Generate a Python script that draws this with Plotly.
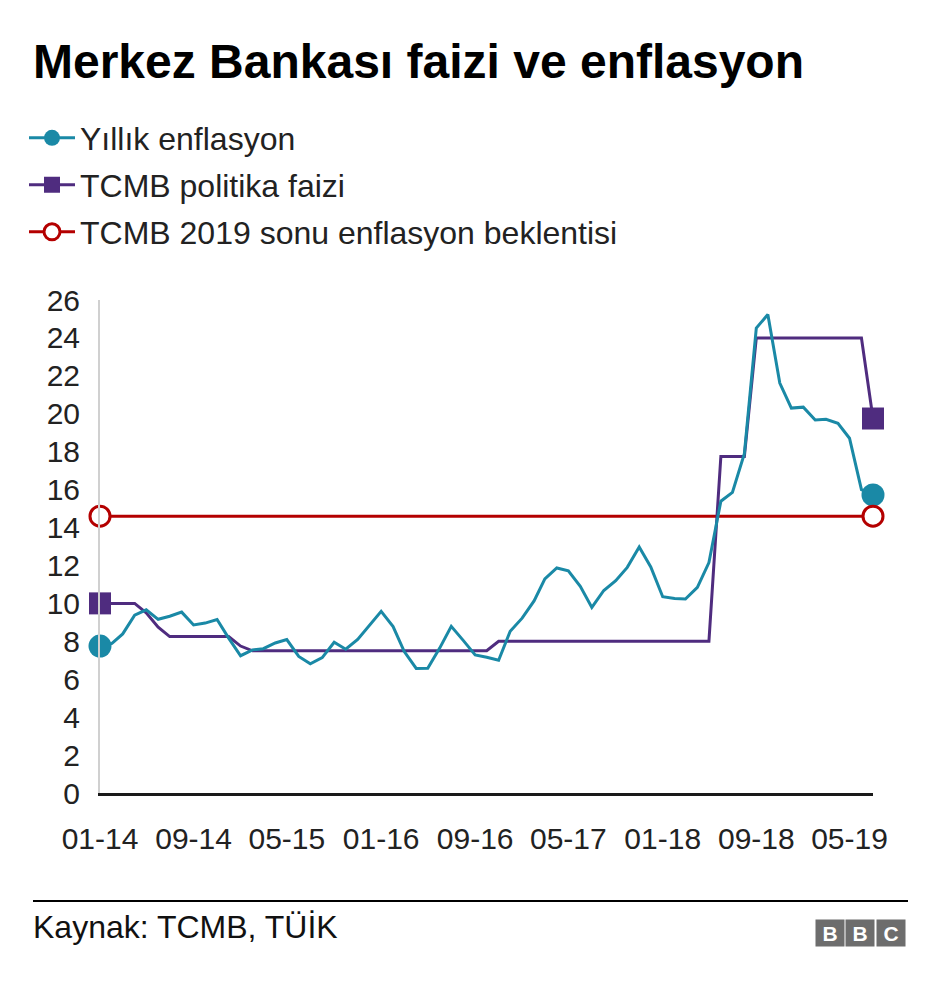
import pandas as pd
import plotly.graph_objects as go

# ---------------- data ----------------
months = pd.date_range("2014-01-01", periods=67, freq="MS")

inflation = [
    7.75, 7.89, 8.39, 9.38, 9.66, 9.16, 9.32, 9.54, 8.86, 8.96, 9.15, 8.17,
    7.24, 7.55, 7.61, 7.91, 8.09, 7.20, 6.81, 7.14, 7.95, 7.58, 8.10, 8.81,
    9.58, 8.78, 7.46, 6.57, 6.58, 7.64, 8.79, 8.05, 7.28, 7.16, 7.00, 8.53,
    9.22, 10.13, 11.29, 11.87, 11.72, 10.90, 9.79, 10.68, 11.20, 11.90, 12.98, 11.92,
    10.35, 10.26, 10.23, 10.85, 12.15, 15.39, 15.85, 17.90, 24.52, 25.24, 21.62, 20.30,
    20.35, 19.67, 19.71, 19.50, 18.71, 16.00, 15.72,
]

policy_rate = [
    10.0, 10.0, 10.0, 10.0, 9.5, 8.75, 8.25, 8.25, 8.25, 8.25, 8.25, 8.25,
    7.75, 7.5, 7.5, 7.5, 7.5, 7.5, 7.5, 7.5, 7.5, 7.5, 7.5, 7.5,
    7.5, 7.5, 7.5, 7.5, 7.5, 7.5, 7.5, 7.5, 7.5, 7.5, 8.0, 8.0,
    8.0, 8.0, 8.0, 8.0, 8.0, 8.0, 8.0, 8.0, 8.0, 8.0, 8.0, 8.0,
    8.0, 8.0, 8.0, 8.0, 8.0, 17.75, 17.75, 17.75, 24.0, 24.0, 24.0, 24.0,
    24.0, 24.0, 24.0, 24.0, 24.0, 24.0, 19.75,
]

expectation_2019 = 14.6

tick_labels = ["01-14", "09-14", "05-15", "01-16", "09-16", "05-17", "01-18", "09-18", "05-19"]
y_ticks = list(range(0, 27, 2))

series_names = ["Yıllık enflasyon", "TCMB politika faizi", "TCMB 2019 sonu enflasyon beklentisi"]
title_text = "Merkez Bankası faizi ve enflasyon"
source_text = "Kaynak: TCMB, TÜİK"

# ---------------- style ----------------
TEAL = "#1a89a6"
PURPLE = "#4f2c7f"
RED = "#b40000"
TXT = "#222222"
FONT = "Liberation Sans, Arial, sans-serif"

W, H = 940, 988
L, R, T, B = 100, 67, 300, 195
PW, PH = W - L - R, H - T - B


def px(x):
    return (x - L) / PW


def py(y):
    return (H - B - y) / PH


tickvals = [pd.Timestamp(f"20{t[3:]}-{t[:2]}-01") for t in tick_labels]

fig = go.Figure()

# lines
fig.add_trace(go.Scatter(x=[months[0], months[-1]], y=[expectation_2019, expectation_2019],
                         mode="lines", line=dict(color=RED, width=3), showlegend=False,
                         hoverinfo="skip"))
fig.add_trace(go.Scatter(x=months, y=policy_rate, mode="lines",
                         line=dict(color=PURPLE, width=3), showlegend=False))
fig.add_trace(go.Scatter(x=months, y=inflation, mode="lines",
                         line=dict(color=TEAL, width=3), showlegend=False))

# end markers
fig.add_trace(go.Scatter(x=[months[0], months[-1]], y=[inflation[0], inflation[-1]], mode="markers",
                         marker=dict(symbol="circle", size=23, color=TEAL),
                         showlegend=False, cliponaxis=False))
fig.add_trace(go.Scatter(x=[months[0], months[-1]], y=[policy_rate[0], policy_rate[-1]], mode="markers",
                         marker=dict(symbol="square", size=22, color=PURPLE),
                         showlegend=False, cliponaxis=False))
fig.add_trace(go.Scatter(x=[months[0], months[-1]], y=[expectation_2019, expectation_2019], mode="markers",
                         marker=dict(symbol="circle", size=20, color="white",
                                     line=dict(color=RED, width=3)),
                         showlegend=False, cliponaxis=False))

# legend entries (one legend per row)
legend_styles = [
    dict(line=dict(color=TEAL, width=3), marker=dict(symbol="circle", size=16, color=TEAL)),
    dict(line=dict(color=PURPLE, width=3), marker=dict(symbol="square", size=16, color=PURPLE)),
    dict(line=dict(color=RED, width=3), marker=dict(symbol="circle", size=16, color="white",
                                                    line=dict(color=RED, width=3))),
]
legend_ids = ["legend", "legend2", "legend3"]
legend_rows = [138, 185, 232]
for name, st, lid in zip(series_names, legend_styles, legend_ids):
    fig.add_trace(go.Scatter(x=[None], y=[None], mode="lines+markers", name=name,
                             legend=lid, showlegend=True, **st))

legend_common = dict(font=dict(family=FONT, size=32, color=TXT), bgcolor="rgba(0,0,0,0)",
                     borderwidth=0, itemwidth=46, xanchor="left", yanchor="middle",
                     itemclick=False, itemdoubleclick=False)
layout_legends = {}
for lid, yrow in zip(legend_ids, legend_rows):
    layout_legends[lid] = dict(x=px(24), y=py(yrow), **legend_common)

fig.update_layout(
    width=W, height=H,
    margin=dict(l=L, r=R, t=T, b=B),
    paper_bgcolor="white", plot_bgcolor="white",
    font=dict(family=FONT, size=30, color=TXT),
    showlegend=True,
    **layout_legends,
    xaxis=dict(
        type="date", range=[months[0], months[-1]],
        tickmode="array", tickvals=tickvals, ticktext=tick_labels,
        showgrid=False, zeroline=False, showline=True, linecolor="#1a1a1a", linewidth=3,
        ticks="", ticklabelstandoff=17, tickfont=dict(size=30, color=TXT),
        fixedrange=True,
    ),
    yaxis=dict(
        range=[0, 26], tickmode="array", tickvals=y_ticks,
        showgrid=False, zeroline=False, showline=True, linecolor="#d0d0d0", linewidth=2,
        ticks="", ticklabelstandoff=12, tickfont=dict(size=30, color=TXT),
        fixedrange=True,
    ),
    annotations=[
        dict(text=f"<b>{title_text}</b>", x=px(31), y=py(62), xref="paper", yref="paper",
             xanchor="left", yanchor="middle", showarrow=False,
             font=dict(family=FONT, size=48, color="#000000")),
        dict(text=source_text, x=px(31), y=py(927), xref="paper", yref="paper",
             xanchor="left", yanchor="middle", showarrow=False,
             font=dict(family=FONT, size=32, color="#111111")),
        dict(text="<b>B</b>", x=px(830), y=py(933), xref="paper", yref="paper",
             xanchor="center", yanchor="middle", showarrow=False, width=26, height=24,
             bgcolor="#6d6d6d", font=dict(family=FONT, size=21, color="white")),
        dict(text="<b>B</b>", x=px(860), y=py(933), xref="paper", yref="paper",
             xanchor="center", yanchor="middle", showarrow=False, width=26, height=24,
             bgcolor="#6d6d6d", font=dict(family=FONT, size=21, color="white")),
        dict(text="<b>C</b>", x=px(891), y=py(933), xref="paper", yref="paper",
             xanchor="center", yanchor="middle", showarrow=False, width=26, height=24,
             bgcolor="#6d6d6d", font=dict(family=FONT, size=21, color="white")),
    ],
    shapes=[
        dict(type="line", xref="paper", yref="paper", x0=px(33), x1=px(908), y0=py(901), y1=py(901),
             line=dict(color="#000000", width=2)),
    ],
)

fig.write_html("out.html", config={"displayModeBar": False})
